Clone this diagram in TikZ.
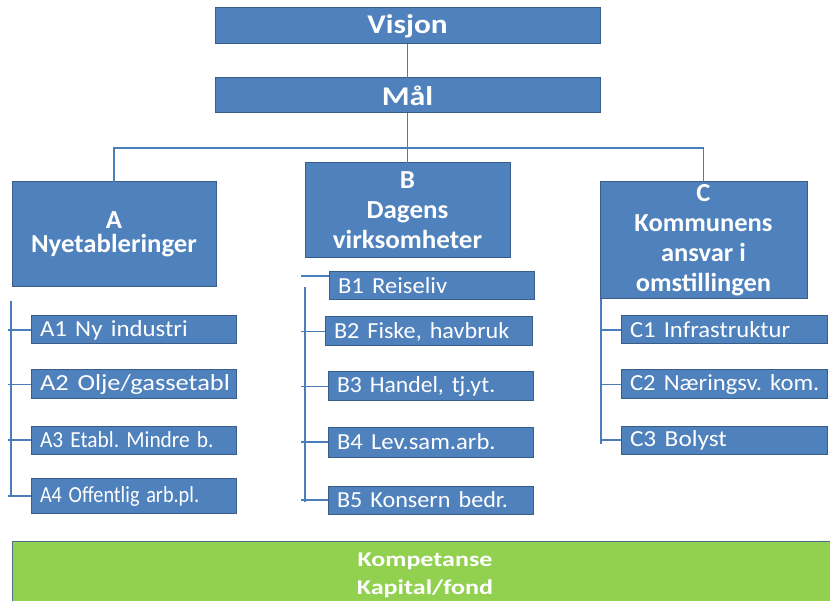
\documentclass[tikz,border=0pt]{standalone}
\usepackage{fontspec}
\usepackage{graphicx}
\setmainfont{Carlito}
\frenchspacing
\definecolor{boxblue}{HTML}{4F81BD}
\definecolor{boxedge}{HTML}{385D8A}
\definecolor{linkblue}{HTML}{4A7EBB}
\definecolor{bargreen}{HTML}{92D050}
\definecolor{baredge}{HTML}{4F6F8F}
\newcommand{\sx}[2]{\scalebox{#1}[1]{#2}}
\tikzset{
  bluebox/.style={draw=boxedge, line width=1pt, fill=boxblue, text=white,
    inner sep=0pt, outer sep=0pt, align=center},
  topbox/.style={bluebox, minimum width=385pt, font=\fontsize{27}{30}\selectfont\bfseries},
  headbox/.style={bluebox, font=\fontsize{26}{30}\selectfont\bfseries},
  subbox/.style={bluebox, inner xsep=9pt, align=left, font=\fontsize{23}{26}\selectfont},
  link/.style={draw=linkblue, line width=1.2pt},
}
\begin{document}
\begin{tikzpicture}[x=1pt,y=-1pt]
\useasboundingbox (0,0) rectangle (830,601);
\clip (0,0) rectangle (830,601);
% top
\node[topbox, minimum height=36pt] (visjon) at (407.5,26) {\sx{1.16}{Visjon}};
\node[topbox, minimum height=35pt] (mal) at (407.5,95.5) {\sx{1.18}{Mål}};
% main categories
\node[headbox, minimum width=204pt, minimum height=105pt, font=\fontsize{26}{24.5}\selectfont\bfseries] (A) at (114,234.5) {\sx{1.03}{A}\\\sx{1.03}{Nyetableringer}};
\node[headbox, minimum width=205pt, minimum height=95pt] (B) at (407.5,210.5) {\sx{1.04}{B}\\\sx{1.04}{Dagens}\\\sx{1.04}{virksomheter}};
\node[headbox, minimum width=207pt, minimum height=117pt] (C) at (703.5,240.5) {\raisebox{-2pt}{\parbox{200pt}{\centering\sx{1.02}{C}\\\sx{1.02}{Kommunens}\\\sx{1.02}{ansvar i}\\\sx{1.02}{omstillingen}}}};
\coordinate (hub) at (407.5,148);
\draw[link] (visjon) -- (mal);
\draw[link] (mal) -- (B);
\draw[link] (A.north) |- (hub) -| (C.north);
% A children
\node[subbox, text width=187pt, minimum height=28pt] (A1) at (133.5,330) {\sx{1.08}{A1 Ny industri}};
\node[subbox, text width=187pt, minimum height=29pt] (A2) at (133.5,384.5) {\sx{1.15}{A2 Olje/gassetabl}};
\node[subbox, text width=187pt, minimum height=28pt] (A3) at (133.5,440) {\sx{0.93}{A3 Etabl. Mindre b.}};
\node[subbox, text width=187pt, minimum height=35pt] (A4) at (133.5,496) {\sx{0.88}{A4 Offentlig arb.pl.}};
\coordinate (atop) at (11,301);
\coordinate (abot) at (11,497);
\draw[link] (atop) -- (abot);
\foreach \n in {A1,A2,A3,A4} \draw[link] (\n.west) -- ([xshift=-3pt]\n.west -| atop);
% B children
\node[subbox, text width=187pt, minimum height=28pt] (B1) at (431.5,286) {\sx{1.07}{B1 Reiseliv}};
\node[subbox, text width=189pt, minimum height=29pt] (B2) at (428.5,331.5) {\sx{1.05}{B2 Fiske, havbruk}};
\node[subbox, text width=187pt, minimum height=29pt] (B3) at (430.5,386.5) {\sx{1.03}{B3 Handel, tj.yt.}};
\node[subbox, text width=187pt, minimum height=30pt] (B4) at (430.5,442) {\sx{1.07}{B4 Lev.sam.arb.}};
\node[subbox, text width=187pt, minimum height=28pt] (B5) at (430.5,500) {\sx{1.05}{B5 Konsern bedr.}};
\coordinate (btop) at (305,287);
\coordinate (bbot) at (305,502);
\draw[link] (btop) -- (bbot);
\draw[link] ([yshift=10pt]B1.west) -- ([xshift=-4pt,yshift=10pt]B1.west -| btop);
\foreach \n in {B2,B3,B4,B5} \draw[link] (\n.west) -- ([xshift=-4pt]\n.west -| btop);
% C children
\node[subbox, text width=188pt, minimum height=28pt] (C1) at (724,330) {\sx{1.07}{C1 Infrastruktur}};
\node[subbox, text width=188pt, minimum height=29pt] (C2) at (724,384.5) {\sx{1.07}{C2 Næringsv. kom.}};
\node[subbox, text width=188pt, minimum height=28pt] (C3) at (724,440) {\sx{1.1}{C3 Bolyst}};
\coordinate (cbot) at (601,444);
\draw[link] (C.south -| cbot) -- (cbot);
\foreach \n in {C1,C2,C3} \draw[link] (\n.west) -- (\n.west -| cbot);
% green bar
\node[draw=baredge, line width=1pt, fill=bargreen, inner sep=0pt,
  minimum width=826pt, minimum height=70pt] (res) at (425,576) {};
\node[text=white, inner sep=0pt, align=center,
  font=\fontsize{21}{28}\selectfont\bfseries] (restext) at (425,575.5)
  {\sx{1.24}{Kompetanse}\\\sx{1.24}{Kapital/fond}};
\end{tikzpicture}
\end{document}
